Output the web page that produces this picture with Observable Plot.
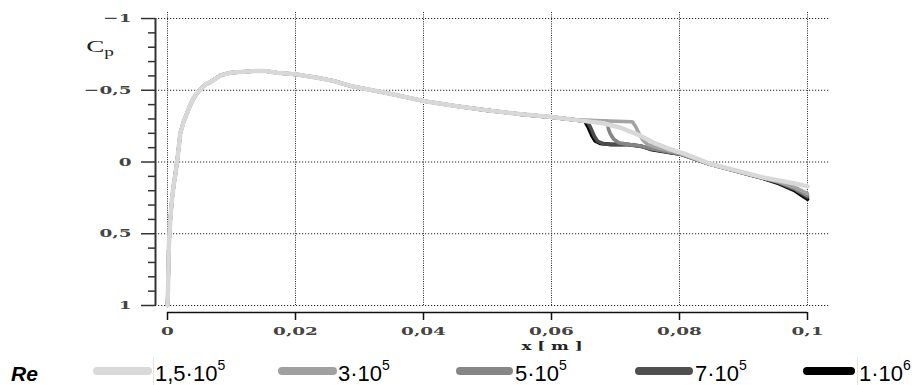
<!DOCTYPE html>
<html><head><meta charset="utf-8">
<script src="https://cdn.jsdelivr.net/npm/d3@7"></script>
<script src="https://cdn.jsdelivr.net/npm/@observablehq/plot@0.6"></script>
<style>
body{margin:0;background:#fff;}
#chart{position:relative;width:920px;height:385px;overflow:hidden;background:#fff;}
#chart svg{display:block;}
</style></head><body><div id="chart"></div>
<script>
// ---- data (x in m, Cp) ----
// common leading-edge / laminar part shared by all Reynolds numbers
const leadX  = [0, 0.0001, 0.0002, 0.0004, 0.0007, 0.001, 0.00125, 0.0016, 0.002, 0.00255, 0.0035, 0.0041, 0.0049, 0.0059, 0.0067, 0.0083, 0.0098, 0.0119, 0.0138, 0.0153, 0.0171, 0.02, 0.0234, 0.026, 0.0286, 0.035, 0.04, 0.045, 0.05, 0.055, 0.06, 0.064];
const leadCp = [1.0, 0.85, 0.6, 0.42, 0.26, 0.15, 0.08, -0.04, -0.2, -0.285, -0.39, -0.448, -0.495, -0.54, -0.557, -0.604, -0.622, -0.629, -0.634, -0.634, -0.622, -0.611, -0.587, -0.564, -0.53, -0.474, -0.425, -0.39, -0.36, -0.334, -0.313, -0.292];

// transition / turbulent tails
const re15X  = [0.0681, 0.0708, 0.0734, 0.076, 0.0786, 0.0807, 0.0848, 0.0927, 0.0955, 0.098, 0.1];
const re15Cp = [-0.27, -0.239, -0.193, -0.134, -0.088, -0.058, 0.012, 0.104, 0.128, 0.15, 0.17];
const re3X   = [0.068, 0.0726, 0.0731, 0.0736, 0.0742, 0.075, 0.0765, 0.0786, 0.0802, 0.0848, 0.0927, 0.0955, 0.098, 0.1];
const re3Cp  = [-0.287, -0.281, -0.251, -0.204, -0.158, -0.123, -0.1, -0.077, -0.058, 0.016, 0.106, 0.138, 0.175, 0.22];
const re5X   = [0.0687, 0.0689, 0.0692, 0.0697, 0.0705, 0.0719, 0.074, 0.0756, 0.0786, 0.0802, 0.0848, 0.0927, 0.0955, 0.098, 0.1];
const re5Cp  = [-0.283, -0.23, -0.195, -0.16, -0.134, -0.123, -0.112, -0.092, -0.068, -0.056, 0.016, 0.107, 0.14, 0.185, 0.235];
const re7X   = [0.0656, 0.0661, 0.0667, 0.0672, 0.068, 0.0695, 0.072, 0.074, 0.0756, 0.0786, 0.0802, 0.0848, 0.0927, 0.0955, 0.098, 0.1];
const re7Cp  = [-0.284, -0.24, -0.18, -0.145, -0.128, -0.12, -0.12, -0.109, -0.09, -0.066, -0.055, 0.016, 0.108, 0.145, 0.19, 0.245];
const re10X  = [0.0652, 0.0657, 0.0663, 0.0668, 0.0676, 0.0692, 0.0718, 0.0739, 0.0755, 0.0786, 0.0802, 0.0848, 0.0927, 0.0955, 0.098, 0.1];
const re10Cp = [-0.285, -0.245, -0.185, -0.148, -0.13, -0.123, -0.123, -0.111, -0.088, -0.065, -0.054, 0.016, 0.109, 0.15, 0.2, 0.26];

// categories / legend labels
const reNames    = ["1.5e5", "3e5", "5e5", "7e5", "1e6"];
const reLabelMan = ["1,5·10", "3·10", "5·10", "7·10", "1·10"];
const reLabelExp = ["5", "5", "5", "5", "6"];

// tick values and labels
const xTicks = [0, 0.02, 0.04, 0.06, 0.08, 0.1];
const xTickLabels = ["0", "0,02", "0,04", "0,06", "0,08", "0,1"];
const yTicks = [-1, -0.5, 0, 0.5, 1];
const yTickLabels = ["\u22121", "\u22120,5", "0", "0,5", "1"];
const yMinorTicks = [-0.9,-0.8,-0.7,-0.6,-0.4,-0.3,-0.2,-0.1,0.1,0.2,0.3,0.4,0.6,0.7,0.8,0.9];

// ---- styles ----
const colors = {"1.5e5": "#d8d8d8", "3e5": "#a4a4a4", "5e5": "#858585", "7e5": "#4c4c4c", "1e6": "#000000"};
const widths = {"1.5e5": 4.5, "3e5": 3.6, "5e5": 3.6, "7e5": 3.6, "1e6": 3.6};
const legendColors = ["#d9d9d9", "#a0a0a0", "#868686", "#4f4f4f", "#000000"];

const xDomain = [-0.001875, 0.1034375];
const yDomain = [-1.042, 1.007];
const H = 351;

function series(tailX, tailCp) {
  const xs = leadX.concat(tailX), cs = leadCp.concat(tailCp);
  return xs.map((x, i) => ({x, cp: cs[i]}));
}
const data = {
  "1.5e5": series(re15X, re15Cp),
  "3e5": series(re3X, re3Cp),
  "5e5": series(re5X, re5Cp),
  "7e5": series(re7X, re7Cp),
  "1e6": series(re10X, re10Cp)
};
const drawOrder = ["1e6", "7e5", "5e5", "3e5", "1.5e5"];

const tickFont = {fontFamily: "DejaVu Serif", fontSize: 11.5, fontWeight: "bold", fill: "#444"};

const plot = Plot.plot({
  width: 920, height: H,
  marginLeft: 155, marginRight: 91, marginTop: 12, marginBottom: H - 306,
  style: {background: "#fff", overflow: "visible"},
  x: {domain: xDomain},
  y: {domain: yDomain, reverse: true},
  marks: [
    Plot.gridY(yTicks, {stroke: "#222", strokeOpacity: 1, strokeWidth: 1, strokeDasharray: "1.2,1.8"}),
    Plot.gridX(xTicks, {stroke: "#222", strokeOpacity: 1, strokeWidth: 1, strokeDasharray: "1,1.3"}),
    ...drawOrder.map(k => Plot.line(data[k], {x: "x", y: "cp", stroke: colors[k], strokeWidth: widths[k], strokeLinejoin: "round"})),
    Plot.ruleX([xDomain[0]], {y1: -1, y2: 1, stroke: "#333", strokeWidth: 2}),
    Plot.axisY({ticks: yMinorTicks, tickSize: 7, tickFormat: () => "", label: null, stroke: "#333", strokeWidth: 1.5}),
    Plot.axisY({ticks: yTicks, tickSize: 14, tickPadding: 10, label: null, stroke: "#333", strokeWidth: 1.5,
      tickFormat: d => yTickLabels[yTicks.indexOf(d)], ...tickFont}),
    Plot.ruleY([1], {x1: 0, x2: 0.1, dy: 7, stroke: "#111", strokeWidth: 1.5}),
    Plot.axisX({ticks: xTicks, tickSize: 8, tickPadding: 6, dy: 6, label: null, stroke: "#111", strokeWidth: 1.5,
      tickFormat: d => xTickLabels[xTicks.indexOf(d)], ...tickFont})
  ]
});

const root = document.getElementById("chart");
root.appendChild(plot);

// horizontally stretched tick labels (as in the original)
function stretch(nodes, s) {
  nodes.forEach(n => {
    const tr = n.getAttribute("transform") || "";
    const x = n.getAttribute("x");
    if (x != null && x !== "" && !isNaN(+x)) {
      n.removeAttribute("x");
      n.setAttribute("transform", `${tr} translate(${+x},0) scale(${s},1)`);
    } else {
      n.setAttribute("transform", `${tr} scale(${s},1)`);
    }
  });
}
stretch(plot.querySelectorAll('g[aria-label="x-axis tick label"] text, g[aria-label="y-axis tick label"] text'), 1.6);

const svg = d3.select(plot);
// Cp label
const cp = svg.append("text")
  .attr("transform", "translate(100,52) scale(1.6,1)")
  .attr("font-family", "Liberation Serif").attr("fill", "#222");
cp.append("tspan").attr("font-size", 17).text("C");
cp.append("tspan").attr("font-size", 12).attr("dy", 4).text("p");
// x label
svg.append("text")
  .attr("transform", "translate(552,349.5) scale(1.6,1)")
  .attr("text-anchor", "middle")
  .attr("font-family", "DejaVu Serif").attr("font-weight", "bold").attr("font-size", 10.5)
  .attr("fill", "#222").text("x [ m ]");

// ---- legend ----
const legendSwatchX = [93, 278, 456, 635, 803];
const legendSwatchW = [59, 59, 57, 58, 52];
const legendTextX = [155, 338, 515, 695, 859];
const leg = d3.select(root).append("svg").attr("width", 920).attr("height", 385 - H)
  .style("display", "block");
leg.append("text").attr("x", 11).attr("y", 29.5)
  .attr("font-family", "Liberation Sans").attr("font-weight", "bold").attr("font-style", "italic")
  .attr("font-size", 21).attr("fill", "#000").text("Re");
reNames.forEach((k, i) => {
  leg.append("line")
    .attr("x1", legendSwatchX[i] + 4).attr("x2", legendSwatchX[i] + legendSwatchW[i] - 4)
    .attr("y1", 20).attr("y2", 20)
    .attr("stroke", legendColors[i]).attr("stroke-width", 8).attr("stroke-linecap", "round");
  if (i === 0 || i === 4) {
    leg.append("line").attr("x1", legendTextX[i] - 1.5).attr("x2", legendTextX[i] - 1.5)
      .attr("y1", 6).attr("y2", 34).attr("stroke", "#e4e4e4").attr("stroke-width", 1);
  }
  const t = leg.append("text").attr("x", legendTextX[i]).attr("y", 29.5)
    .attr("font-family", "Liberation Sans").attr("font-size", 22).attr("fill", "#000");
  t.append("tspan").text(reLabelMan[i]);
  t.append("tspan").attr("font-size", 14).attr("dy", -11).text(reLabelExp[i]);
});
</script>
</body></html>
